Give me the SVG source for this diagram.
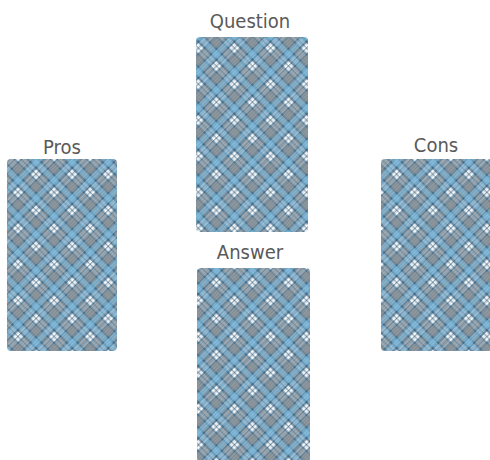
<svg xmlns="http://www.w3.org/2000/svg" width="490" height="460" viewBox="0 0 490 460">
  <style>
    .label { font-family: "DejaVu Sans Condensed", "DejaVu Sans", sans-serif; font-size: 20px; fill: #5a5a5a; text-anchor: middle; }
    .card { fill: url(#plaid); }
    .twill { fill: url(#twill); }
    .soft { filter: url(#soft); }
  </style>
  <defs>
    <filter id="soft" x="-2%" y="-2%" width="104%" height="104%">
      <feGaussianBlur stdDeviation="0.55"/>
    </filter>
    <pattern id="plaid" patternUnits="userSpaceOnUse" width="25.5" height="25.5" patternTransform="rotate(45)">
      <rect x="0" y="0" width="25.5" height="25.5" fill="#406c8b"/>
      <rect x="0" y="1" width="25.5" height="7" fill="#a4a4a4" opacity="0.55"/>
      <rect x="1" y="0" width="7" height="25.5" fill="#a4a4a4" opacity="0.55"/>
      <rect x="0" y="10" width="25.5" height="5.5" fill="#93cdec" opacity="0.6"/>
      <rect x="10" y="0" width="5.5" height="25.5" fill="#93cdec" opacity="0.6"/>
      <rect x="0" y="17.8" width="25.5" height="3" fill="#ffffff" opacity="0.3"/>
      <rect x="0" y="21.8" width="25.5" height="3" fill="#ffffff" opacity="0.3"/>
      <rect x="17.8" y="0" width="3" height="25.5" fill="#ffffff" opacity="0.3"/>
      <rect x="21.8" y="0" width="3" height="25.5" fill="#ffffff" opacity="0.3"/>
      <rect x="17.8" y="17.8" width="3" height="3" fill="#ffffff"/>
      <rect x="21.8" y="17.8" width="3" height="3" fill="#ffffff"/>
      <rect x="17.8" y="21.8" width="3" height="3" fill="#ffffff"/>
      <rect x="21.8" y="21.8" width="3" height="3" fill="#ffffff"/>
    </pattern>
    <pattern id="twill" patternUnits="userSpaceOnUse" width="2.5" height="2.5" patternTransform="rotate(-45)">
      <rect x="0" y="0" width="2.5" height="1" fill="#1f3a4e" opacity="0.15"/>
    </pattern>
  </defs>
  <rect x="0" y="0" width="490" height="460" fill="#ffffff"/>
  <g id="question">
    <text class="label" x="250" y="28">Question</text>
    <g class="soft">
      <rect class="card" x="196" y="37" width="112" height="195" rx="4"/>
      <rect class="twill" x="196" y="37" width="112" height="195" rx="4"/>
    </g>
  </g>
  <g id="pros">
    <text class="label" x="62" y="154">Pros</text>
    <g class="soft">
      <rect class="card" x="7" y="159" width="110" height="192" rx="4"/>
      <rect class="twill" x="7" y="159" width="110" height="192" rx="4"/>
    </g>
  </g>
  <g id="cons">
    <text class="label" x="436" y="152">Cons</text>
    <g class="soft">
      <rect class="card" x="381" y="159" width="111" height="192" rx="4"/>
      <rect class="twill" x="381" y="159" width="111" height="192" rx="4"/>
    </g>
  </g>
  <g id="answer">
    <text class="label" x="250" y="259">Answer</text>
    <g class="soft">
      <rect class="card" x="197" y="268" width="113" height="194" rx="4"/>
      <rect class="twill" x="197" y="268" width="113" height="194" rx="4"/>
    </g>
  </g>
</svg>
